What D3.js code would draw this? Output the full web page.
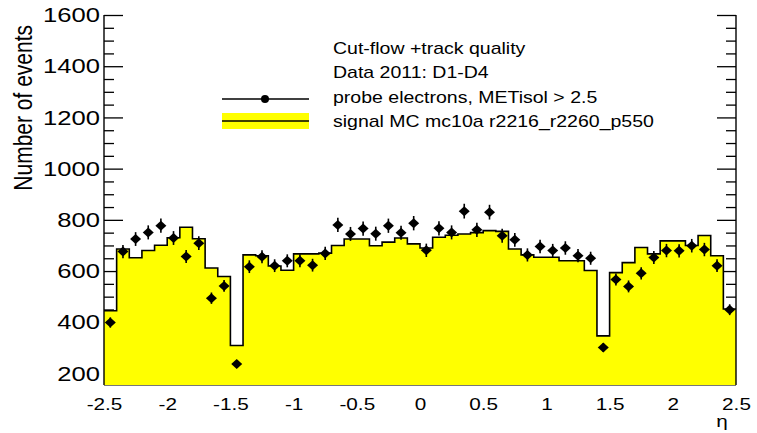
<!DOCTYPE html>
<html>
<head>
<meta charset="utf-8">
<script src="https://cdn.jsdelivr.net/npm/d3@7/dist/d3.min.js"></script>
<style>
  body { margin: 0; background: #fff; }
  svg { display: block; }
  text { font-family: "Liberation Sans", Arial, Helvetica, sans-serif; fill: #000; }
</style>
</head>
<body>
<svg id="chart" width="757" height="433"></svg>
<script>
// eta binning: 50 bins of width 0.1 between -2.5 and 2.5
const etaEdges = d3.range(-25, 26).map(k => k / 10);

// probe electrons (data), events per bin
const dataCounts = [
  399, 676, 725, 751, 777, 729, 657, 709, 494, 542,
  237, 617, 656, 621, 640, 640, 623, 669, 780, 745,
  766, 746, 777, 750, 787, 681, 767, 751, 834, 761,
  830, 738, 722, 663, 696, 680, 690, 660, 650, 301,
  567, 540, 591, 653, 680, 679, 699, 684, 621, 449
];

// signal MC expectation, events per bin
const mcCounts = [
  445, 686, 652, 680, 701, 730, 771, 726, 612, 579,
  309, 663, 660, 620, 603, 667, 667, 670, 700, 725,
  725, 699, 713, 729, 706, 690, 732, 740, 745, 750,
  758, 755, 686, 663, 654, 654, 640, 640, 602, 347,
  594, 633, 692, 667, 718, 718, 700, 739, 660, 452
];

const yMajorTicks = [200, 400, 600, 800, 1000, 1200, 1400, 1600];
const yMinorTicks = d3.range(200, 1601, 50).filter(v => v % 200 !== 0);
const xTickValues = [-2.5, -2, -1.5, -1, -0.5, 0, 0.5, 1, 1.5, 2, 2.5];
const xTickLabels = ["-2.5", "-2", "-1.5", "-1", "-0.5", "0", "0.5", "1", "1.5", "2", "2.5"];

const legendHeader = ["Cut-flow +track quality", "Data 2011: D1-D4"];
const legendData = "probe electrons, METisol > 2.5";
const legendMC = "signal MC mc10a r2216_r2260_p550";

const plotL = 104, plotR = 736, plotT = 15, plotB = 385;
const SX = 1.22; // horizontal glyph stretch of the typeface

const svg = d3.select("#chart");
const x = d3.scaleLinear().domain([-2.5, 2.5]).range([plotL, plotR]);
const y = d3.scaleLinear().domain([155, 1600]).range([plotB, plotT]);

function stretch(sel) {
  sel.each(function () {
    const t = d3.select(this);
    const x0 = +t.attr("x") || 0;
    t.attr("x", x0 / SX).attr("transform", `scale(${SX},1)`);
  });
}

// tick marks on both vertical axes (drawn beneath the histogram)
const ticks = svg.append("g");
ticks.append("g").attr("transform", `translate(${plotL},0)`)
  .call(d3.axisRight(y).tickValues(yMajorTicks).tickSize(19).tickFormat(""));
ticks.append("g").attr("transform", `translate(${plotL},0)`)
  .call(d3.axisRight(y).tickValues(yMinorTicks).tickSize(10).tickFormat(""));
ticks.append("g").attr("transform", `translate(${plotR},0)`)
  .call(d3.axisLeft(y).tickValues(yMajorTicks).tickSize(19).tickFormat(""));
ticks.append("g").attr("transform", `translate(${plotR},0)`)
  .call(d3.axisLeft(y).tickValues(yMinorTicks).tickSize(10).tickFormat(""));
ticks.selectAll(".domain").remove();
ticks.selectAll("line").attr("stroke", "#000").attr("stroke-width", 1.3);

// MC histogram: yellow fill with black step outline
const stepPts = etaEdges.map((e, i) => [e, mcCounts[Math.min(i, mcCounts.length - 1)]]);
const area = d3.area().curve(d3.curveStepAfter)
  .x(d => x(d[0])).y0(plotB).y1(d => y(d[1]));
const line = d3.line().curve(d3.curveStepAfter)
  .x(d => x(d[0])).y(d => y(d[1]));
svg.append("path").datum(stepPts).attr("d", area).attr("fill", "#ffff00");
svg.append("path").datum(stepPts).attr("d", line)
  .attr("fill", "none").attr("stroke", "#000").attr("stroke-width", 1.6);

// frame lines
svg.append("line").attr("x1", plotL).attr("x2", plotL).attr("y1", plotT).attr("y2", plotB)
  .attr("stroke", "#000").attr("stroke-width", 1.4);
svg.append("line").attr("x1", plotR).attr("x2", plotR).attr("y1", plotT).attr("y2", plotB)
  .attr("stroke", "#000").attr("stroke-width", 1.4);
svg.append("line").attr("x1", plotL).attr("x2", plotR).attr("y1", plotB + 0.5).attr("y2", plotB + 0.5)
  .attr("stroke", "#777").attr("stroke-width", 1);

// data points with statistical error bars
const centers = dataCounts.map((c, i) => ({ eta: (etaEdges[i] + etaEdges[i + 1]) / 2, n: c }));
const pts = svg.append("g");
pts.selectAll("line.err").data(centers).join("line")
  .attr("class", "err")
  .attr("x1", d => x(d.eta)).attr("x2", d => x(d.eta))
  .attr("y1", d => y(d.n + Math.sqrt(d.n))).attr("y2", d => y(d.n - Math.sqrt(d.n)))
  .attr("stroke", "#000").attr("stroke-width", 1.6);
pts.selectAll("path.mk").data(centers).join("path")
  .attr("class", "mk")
  .attr("d", d => {
    const cx = x(d.eta), cy = y(d.n);
    return `M${cx - 5.5},${cy} L${cx},${cy - 5} L${cx + 5.5},${cy} L${cx},${cy + 5} Z`;
  })
  .attr("fill", "#000");

// y axis labels
const yLab = svg.append("g").attr("transform", `translate(${plotL},0)`)
  .call(d3.axisLeft(y).tickValues(yMajorTicks).tickSize(0).tickPadding(4).tickFormat(d3.format("d")));
yLab.select(".domain").remove();
yLab.selectAll("text").attr("font-size", 21).attr("fill", "#000").call(stretch);

// x axis labels
const xLab = svg.append("g").attr("transform", `translate(0,${plotB})`)
  .call(d3.axisBottom(x).tickValues(xTickValues).tickSize(0).tickPadding(13)
    .tickFormat((d, i) => xTickLabels[i]));
xLab.select(".domain").remove();
xLab.selectAll("text").attr("font-size", 17).attr("fill", "#000").call(stretch);

// axis titles
svg.append("text").attr("transform", `translate(722,427) scale(${SX},1)`)
  .attr("text-anchor", "middle").attr("font-size", 17).text("η");
svg.append("text").attr("transform", `translate(32,25) scale(${SX},1) rotate(-90)`)
  .attr("text-anchor", "end").attr("font-size", 21).text("Number of events");

// legend
const lg = svg.append("g");
const textX = 333;
[[legendHeader[0], 54], [legendHeader[1], 78], [legendData, 103], [legendMC, 127]].forEach(([t, b]) => {
  lg.append("text").attr("transform", `translate(${textX},${b}) scale(${SX},1)`)
    .attr("font-size", 16).text(t);
});
lg.append("line").attr("x1", 222).attr("x2", 309).attr("y1", 99).attr("y2", 99)
  .attr("stroke", "#000").attr("stroke-width", 1.5);
lg.append("circle").attr("cx", 265).attr("cy", 99).attr("r", 4).attr("fill", "#000");
lg.append("rect").attr("x", 222).attr("y", 113).attr("width", 87).attr("height", 16).attr("fill", "#ffff00");
lg.append("line").attr("x1", 222).attr("x2", 309).attr("y1", 121).attr("y2", 121)
  .attr("stroke", "#000").attr("stroke-width", 1.6);
</script>
</body>
</html>
